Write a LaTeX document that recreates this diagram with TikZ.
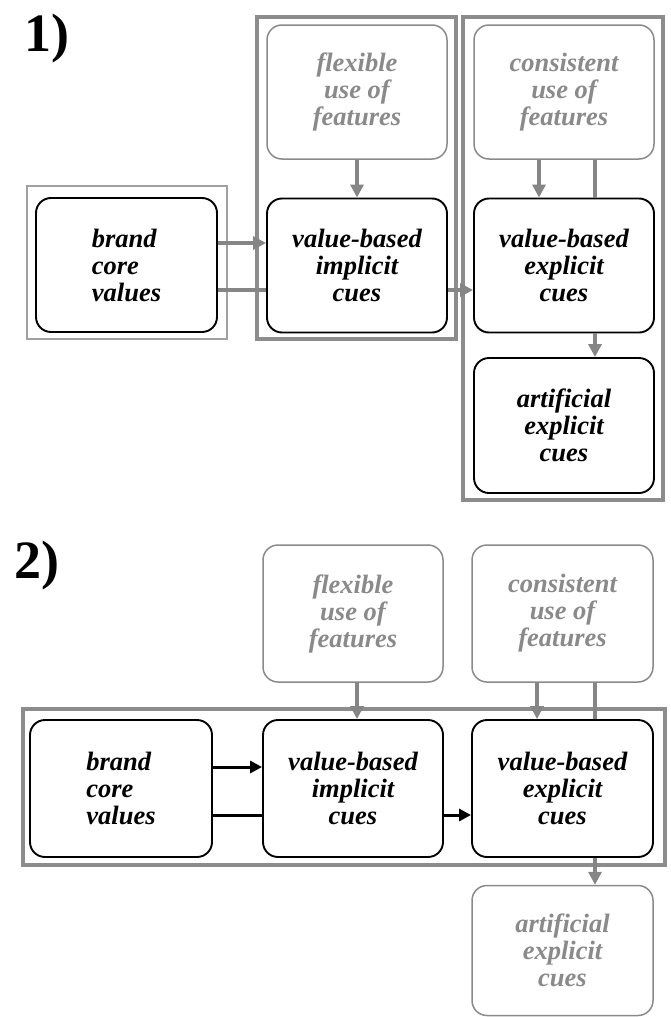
\documentclass[tikz,border=0pt]{standalone}
\usepackage{fontspec}
\setmainfont{Liberation Serif}
\usetikzlibrary{arrows.meta}
\definecolor{frameg}{HTML}{8C8C8C}
\definecolor{lineg}{HTML}{858585}
\definecolor{textg}{HTML}{8A8A8A}
\definecolor{thinframe}{HTML}{A0A0A0}
\tikzset{
  cue/.style={draw=black, fill=white, line width=1.9pt, rounded corners=15pt,
    minimum width=180pt, minimum height=134pt, inner sep=0pt, align=center,
    font=\bfseries\itshape\fontsize{26.5}{27}\selectfont},
  source/.style={cue, draw=textg, text=textg, line width=1.5pt},
  frame/.style={draw=frameg, line width=3.2pt},
  lightframe/.style={draw=thinframe, line width=1.8pt},
  gline/.style={draw=lineg, line width=3.4pt},
  garrow/.style={gline, -{Triangle[length=13pt,width=13pt]}},
  kline/.style={draw=black, line width=3pt},
  karrow/.style={kline, -{Triangle[length=12pt,width=12pt]}},
  panel/.style={anchor=base west, inner sep=0pt, font=\bfseries\fontsize{54}{54}\selectfont}
}
\begin{document}
\begin{tikzpicture}[x=1pt, y=-1pt]
\useasboundingbox (0,0) rectangle (670,1017);

% ---------- panel 1 ----------
\node[panel] (lab1) at (24,51) {1)};

\draw[lightframe] (27,186) rectangle (227,339);
\draw[frame] (257,17) rectangle (456,339);
\draw[frame] (463,17) rectangle (663,500);

\node[cue, align=left, minimum width=181pt] (brand1) at (126.5,265) {brand\\core\\values};
\node[source] (flex1) at (357,92) {flexible\\use of\\features};
\node[cue] (impl1) at (357,265.5) {value-based\\implicit\\cues};
\node[source] (cons1) at (564,92) {consistent\\use of\\features};
\node[cue] (expl1) at (564,265.5) {value-based\\explicit\\cues};
\node[cue, minimum height=135pt] (art1) at (564,425.5) {artificial\\explicit\\cues};

\coordinate (r1a) at (0,243);
\coordinate (r1b) at (0,290);
\coordinate (c1a) at (539,0);
\coordinate (c1b) at (595,0);

\draw[garrow] (brand1.east |- r1a) -- (impl1.west |- r1a);
\draw[gline] (brand1.east |- r1b) -- (impl1.west |- r1b);
\draw[garrow] (impl1.east |- r1b) -- (expl1.west |- r1b);
\draw[garrow] (flex1.south) -- (impl1.north);
\draw[garrow] (cons1.south -| c1a) -- (expl1.north -| c1a);
\draw[gline] (cons1.south -| c1b) -- (expl1.north -| c1b);
\draw[garrow] (expl1.south -| c1b) -- (art1.north -| c1b);

% ---------- panel 2 ----------
\node[panel] (lab2) at (14,578) {2)};

\draw[frame, line width=3.6pt] (23,709) rectangle (665,865);

\node[source, minimum height=137pt] (flex2) at (353,613.5) {flexible\\use of\\features};
\node[source, minimum width=181pt, minimum height=137pt] (cons2) at (562.5,613.5) {consistent\\use of\\features};
\node[cue, align=left, minimum width=182pt, minimum height=137pt] (brand2) at (121,788.5) {brand\\core\\values};
\node[cue, minimum height=137pt] (impl2) at (353,788.5) {value-based\\implicit\\cues};
\node[cue, minimum width=181pt, minimum height=137pt] (expl2) at (562.5,788.5) {value-based\\explicit\\cues};
\node[source, minimum width=181pt, minimum height=130pt] (art2) at (562.5,950.5) {artificial\\explicit\\cues};

\coordinate (r2a) at (0,767);
\coordinate (r2b) at (0,815);
\coordinate (c2f) at (357,0);
\coordinate (c2a) at (537,0);
\coordinate (c2b) at (595,0);

\draw[karrow] (brand2.east |- r2a) -- (impl2.west |- r2a);
\draw[kline] (brand2.east |- r2b) -- (impl2.west |- r2b);
\draw[karrow] (impl2.east |- r2b) -- (expl2.west |- r2b);
\draw[garrow] (flex2.south -| c2f) -- (impl2.north -| c2f);
\draw[garrow] (cons2.south -| c2a) -- (expl2.north -| c2a);
\draw[gline] (cons2.south -| c2b) -- (expl2.north -| c2b);
\draw[garrow] (expl2.south -| c2b) -- (art2.north -| c2b);
\end{tikzpicture}
\end{document}
